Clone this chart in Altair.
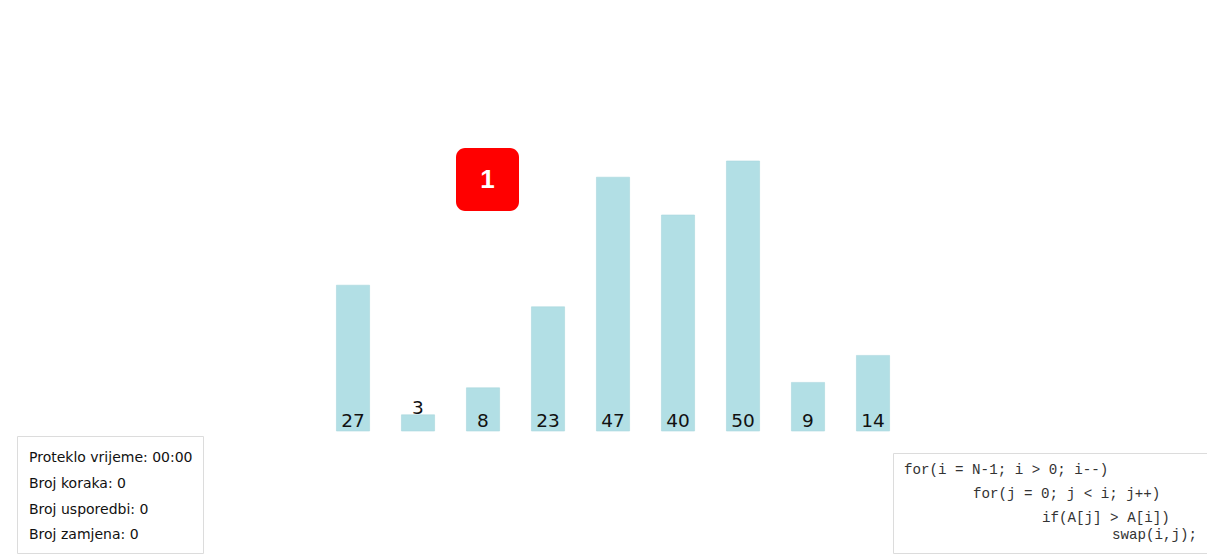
import altair as alt
import pandas as pd

# --- data ---
positions = list(range(9))
values = [27, 3, 8, 23, 47, 40, 50, 9, 14]
pointer_label = ["1"]
stats_lines = ["Proteklo vrijeme: 00:00", "Broj koraka: 0", "Broj usporedbi: 0", "Broj zamjena: 0"]
code_lines = ["for(i = N-1; i > 0; i--)", "for(j = 0; j < i; j++)", "if(A[j] > A[i])", "swap(i,j);"]
code_indent = [896, 965, 1034, 1104]

W, H = 1199, 549
bars_df = pd.DataFrame({"pos": positions, "value": values})

xscale = alt.Scale(domain=positions, range=[312.5, 897.5], paddingInner=0.49, paddingOuter=0.245)
yscale = alt.Scale(domain=[0, 50], range=[423, 153], nice=False, zero=True)

base = alt.Chart(bars_df)

bars = base.mark_bar(color="#b2dfe5", stroke="#a9d7de", strokeWidth=0.6).encode(
    x=alt.X("pos:O", scale=xscale, axis=None),
    y=alt.Y("value:Q", scale=yscale, axis=None),
    y2=alt.datum(0),
)

labels_big = base.transform_filter("datum.value >= 5").transform_calculate(zero="0").mark_text(
    font="DejaVu Sans", fontSize=18.5, baseline="alphabetic", dy=-4, color="#111"
).encode(
    x=alt.X("pos:O", scale=xscale, axis=None),
    y=alt.Y("zero:Q", scale=yscale, axis=None),
    text="value:Q",
)

labels_small = base.transform_filter("datum.value < 5").mark_text(
    font="DejaVu Sans", fontSize=18.5, baseline="alphabetic", dy=-1, color="#111"
).encode(
    x=alt.X("pos:O", scale=xscale, axis=None),
    y=alt.Y("value:Q", scale=yscale, axis=None),
    text="value:Q",
)

one = pd.DataFrame({"t": pointer_label})
badge = alt.Chart(one).mark_rect(color="#ff0000", cornerRadius=9).encode(
    x=alt.value(448), x2=alt.value(511), y=alt.value(140), y2=alt.value(203)
)
badge_text = alt.Chart(one).mark_text(
    font="Liberation Sans", fontSize=26, fontWeight="bold", color="white", baseline="middle"
).encode(x=alt.value(479.5), y=alt.value(172), text="t:N")

stats_box = alt.Chart(one).mark_rect(fill="white", stroke="#dcdcdc", strokeWidth=1).encode(
    x=alt.value(9.5), x2=alt.value(195.5), y=alt.value(428.5), y2=alt.value(545.5)
)
stats_df = pd.DataFrame({"t": stats_lines, "ypix": [450, 476, 502, 527]})
stats_text = alt.Chart(stats_df).mark_text(
    font="DejaVu Sans", fontSize=14, align="left", baseline="middle", color="#111"
).encode(x=alt.value(21), y=alt.Y("ypix:Q", scale=None, axis=None), text="t:N")

code_box = alt.Chart(one).mark_rect(fill="white", stroke="#dcdcdc", strokeWidth=1).encode(
    x=alt.value(885.5), x2=alt.value(1202.5), y=alt.value(445.5), y2=alt.value(545.5)
)
code_df = pd.DataFrame({"t": code_lines, "xpix": code_indent, "ypix": [462, 486, 510, 527]})
code_text = alt.Chart(code_df).mark_text(
    font="Liberation Mono", fontSize=14.2, align="left", baseline="middle", color="#333"
).encode(
    x=alt.X("xpix:Q", scale=None, axis=None),
    y=alt.Y("ypix:Q", scale=None, axis=None),
    text="t:N",
)

chart = alt.layer(
    bars, labels_big, labels_small, badge, badge_text, stats_box, stats_text, code_box, code_text
).resolve_scale(x="independent", y="independent").properties(
    width=W, height=H, autosize=alt.AutoSizeParams(type="none"), padding=0
).configure(background="white").configure_view(stroke=None)

chart.save("out.html", embed_options={"renderer": "svg", "actions": False})
